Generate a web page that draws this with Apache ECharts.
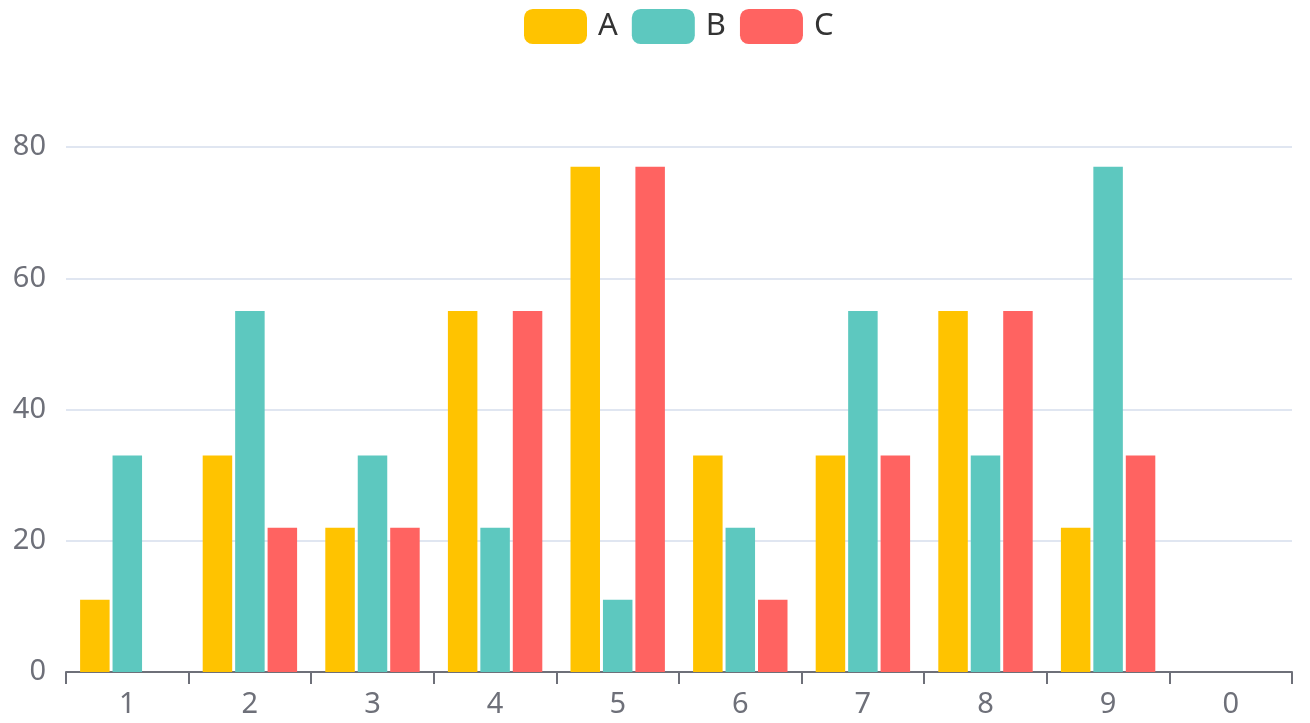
<!DOCTYPE html>
<html><head><meta charset="utf-8">
<script src="https://cdn.jsdelivr.net/npm/echarts@6/dist/echarts.min.js"></script>
<style>html,body{margin:0;padding:0;background:#fff}#c{width:1310px;height:723px}</style>
</head><body><div id="c"></div>
<script>
var categories = ['1','2','3','4','5','6','7','8','9','0'];
var seriesNames = ['A','B','C'];
var valuesA = [11, 33, 22, 55, 77, 33, 33, 55, 22, null];
var valuesB = [33, 55, 33, 22, 11, 22, 55, 33, 77, null];
var valuesC = [null, 22, 22, 55, 77, 11, 33, 55, 33, null];
var colors = ['#FFC300', '#5DC8BF', '#FF6361'];
var font = '"Noto Sans", sans-serif';
var chart = echarts.init(document.getElementById('c'));
chart.setOption({
  animation: false,
  color: colors,
  textStyle: {fontFamily: font},
  legend: {
    top: 4, left: 519,
    itemWidth: 63, itemHeight: 35, itemGap: 14,
    textStyle: {fontSize: 31, color: '#333', fontFamily: font, padding: [0,0,0,6]},
    data: seriesNames
  },
  grid: {left: 66, right: 18, top: 147, bottom: 51},
  xAxis: {
    type: 'category', data: categories,
    axisLine: {show: true, lineStyle: {color: '#6E7079', width: 2}},
    axisTick: {show: true, length: 12, lineStyle: {color: '#6E7079', width: 2}},
    axisLabel: {fontSize: 29, color: '#6E7079', margin: 18, fontFamily: font}
  },
  yAxis: {
    type: 'value', min: 0, max: 80, interval: 20,
    axisLabel: {fontSize: 29, color: '#6E7079', margin: 20, fontFamily: font},
    splitLine: {lineStyle: {color: '#E0E6F1', width: 2}}
  },
  series: [
    {name: 'A', type: 'bar', data: valuesA},
    {name: 'B', type: 'bar', data: valuesB},
    {name: 'C', type: 'bar', data: valuesC}
  ]
});
</script></body></html>
